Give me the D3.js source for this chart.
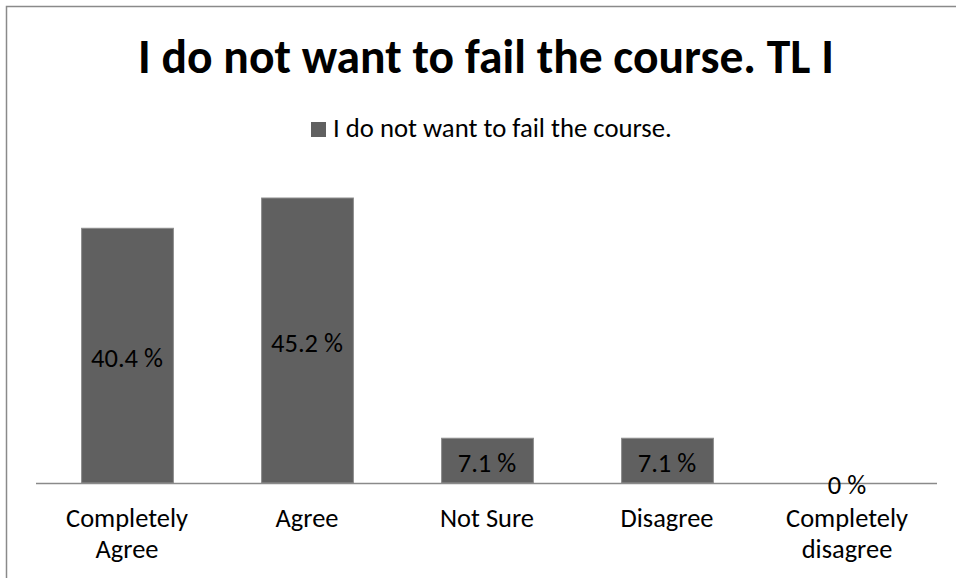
<!DOCTYPE html>
<html>
  <head>
    <title>I do not want to fail the course</title>
    <meta charset='utf-8' />
    <script src="https://cdn.jsdelivr.net/npm/d3@7"></script>
    <style>
    body {
      margin: 0;
      background: #fff;
    }
    svg text {
      font-family: Carlito, Calibri, Lato, sans-serif;
      fill: #000;
    }
    .bar {
      fill: #606060;
      stroke: #8c8c8c;
      stroke-width: 1px;
    }
    .frame {
      fill: #fff;
      stroke: #8a8a8a;
      stroke-width: 1.5px;
    }
    </style>
  </head>
<body>
<svg id="chart" width="956" height="578"></svg>
<script type="text/javascript">

var title = "I do not want to fail the course. TL I",
    seriesName = "I do not want to fail the course.";

var categories = [["Completely", "Agree"], ["Agree"], ["Not Sure"], ["Disagree"], ["Completely", "disagree"]];
var values = [40.4, 45.2, 7.1, 7.1, 0];
var valueLabels = ["40.4 %", "45.2 %", "7.1 %", "7.1 %", "0 %"];

var svg = d3.select("#chart");

// set font-size so the text gets about the wanted width
function fitText(sel, wanted) {
  sel.style("font-size", "20px");
  var w = sel.node().getComputedTextLength();
  var fs = 20 * wanted / w;
  sel.style("font-size", fs + "px");
  return fs;
}

svg.append("rect")
  .attr("class", "frame")
  .attr("x", 6.5)
  .attr("y", 6.5)
  .attr("width", 1000)
  .attr("height", 1000);

var x = d3.scaleBand()
  .domain(d3.range(values.length))
  .range([37, 937])
  .paddingInner(0.49)
  .paddingOuter(0.245);

var y = d3.scaleLinear()
  .domain([0, 50])
  .range([483, 483 - 50 * 6.305]);

// title
var t = svg.append("text")
  .attr("x", 486)
  .attr("y", 73)
  .attr("text-anchor", "middle")
  .style("font-weight", "bold")
  .text(title);
fitText(t, 696);

// legend
svg.append("rect")
  .attr("x", 311)
  .attr("y", 122)
  .attr("width", 15)
  .attr("height", 15)
  .style("fill", "#606060");
var lg = svg.append("text")
  .attr("x", 333)
  .attr("y", 137)
  .text(seriesName);
fitText(lg, 339);

// bars
svg.selectAll("rect.bar")
  .data(values)
  .enter().append("rect")
  .attr("class", "bar")
  .attr("x", function(d, i) { return x(i) + 0.5; })
  .attr("width", x.bandwidth())
  .attr("y", function(d) { return y(d); })
  .attr("height", function(d) { return y(0) - y(d); })
  .style("display", function(d) { return d > 0 ? null : "none"; });

// axis line
svg.append("line")
  .attr("x1", 36)
  .attr("x2", 937)
  .attr("y1", y(0) + 0.5)
  .attr("y2", y(0) + 0.5)
  .style("stroke", "#8a8a8a")
  .style("stroke-width", 1.5);

// value labels in the middle of the bar
var probe = svg.append("text").text(valueLabels[0]);
var vfs = fitText(probe, 72);
probe.remove();

svg.selectAll("text.val")
  .data(values)
  .enter().append("text")
  .attr("class", "val")
  .attr("x", function(d, i) { return x(i) + x.bandwidth() / 2; })
  .attr("y", function(d) { return (y(d) + y(0)) / 2 + vfs * 0.42; })
  .attr("text-anchor", "middle")
  .style("font-size", vfs + "px")
  .text(function(d, i) { return valueLabels[i]; });

// category labels
var probe2 = svg.append("text").text("Completely");
var cfs = fitText(probe2, 122);
probe2.remove();

var cat = svg.selectAll("text.cat")
  .data(categories)
  .enter().append("text")
  .attr("class", "cat")
  .attr("text-anchor", "middle")
  .style("font-size", cfs + "px")
  .attr("transform", function(d, i) { return "translate(" + (x(i) + x.bandwidth() / 2) + ",527)"; });

cat.selectAll("tspan")
  .data(function(d) { return d; })
  .enter().append("tspan")
  .attr("x", 0)
  .attr("y", function(d, j) { return j * 31; })
  .text(function(d) { return d; });

</script>
</body>
</html>
